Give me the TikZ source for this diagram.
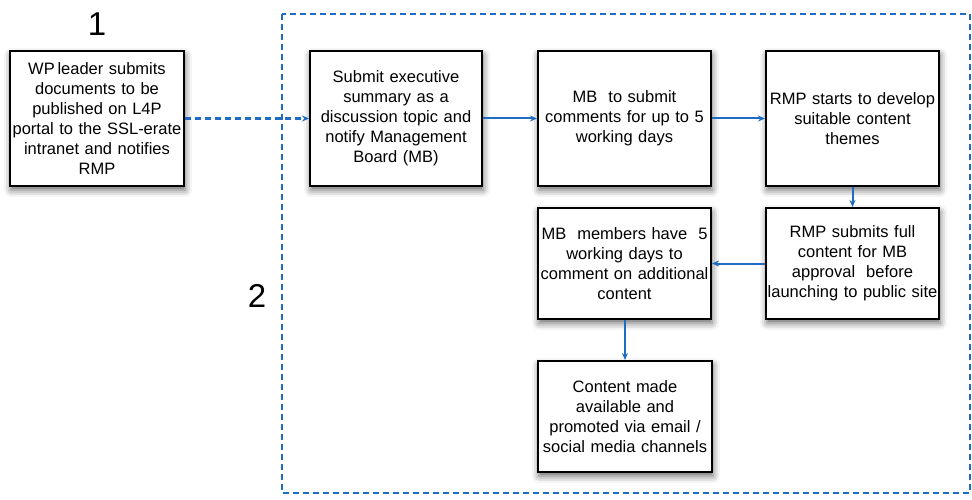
\documentclass[tikz,border=0pt]{standalone}
\usepackage{fontspec}
\setmainfont{Liberation Sans}
\usetikzlibrary{arrows.meta,shadows.blur}
\definecolor{flowblue}{RGB}{31,108,196}
\begin{document}
\begin{tikzpicture}[x=1pt,y=-1pt,
  box/.style={draw=black, line width=2pt, fill=white, align=center,
    inner sep=0pt, text width=#1, minimum width=#1,
    font=\fontsize{16.5}{20}\selectfont,
    blur shadow={shadow xshift=1pt, shadow yshift=-4pt, shadow blur radius=7pt, shadow opacity=60}},
  tall/.style={minimum height=135pt},
  short/.style={minimum height=111pt},
  flow/.style={draw=flowblue, line width=2pt, -{Stealth[length=7pt,width=6pt]}},
  frame/.style={draw=flowblue, line width=2pt, dash pattern=on 6pt off 4pt},
  bignum/.style={font=\fontsize{33}{33}\selectfont, inner sep=0pt}
]
\useasboundingbox (0,0) rectangle (972,500);

\draw[frame] (282,14) rectangle (970,493);

\node[bignum] (n1) at (97,24) {1};
\node[bignum] (n2) at (257,296) {2};

\node[box=174pt, tall] (a) at (97,118.5) {WP\,leader submits\\documents to be\\published on L4P\\portal to the SSL-erate\\intranet and notifies\\RMP};
\node[box=172pt, tall] (b) at (396,118.5) {Submit executive\\summary as a\\discussion topic and\\notify Management\\Board (MB)};
\node[box=173pt, tall] (c) at (624.5,118.5) {MB\ \ to submit\\comments for up to 5\\working days};
\node[box=173pt, tall] (d) at (852.5,118.5) {RMP starts to develop\\suitable content\\themes};
\node[box=173pt, short] (e) at (852.5,263.5) {RMP submits full\\content for MB\\approval\ \ before\\launching to public site};
\node[box=173pt, short] (f) at (624.5,263.5) {MB\ \ members have\ \ 5\\working days to\\comment on additional\\content};
\node[box=174pt, short] (g) at (625,416.5) {Content made\\available and\\promoted via email /\\social media channels};

\draw[flow, line width=2.5pt, dash pattern=on 6pt off 4pt] (a.east) -- (b.west);
\draw[flow] (b.east) -- (c.west);
\draw[flow] (c.east) -- (d.west);
\draw[flow] (d.south) -- (e.north);
\draw[flow] (e.west) -- (f.east);
\draw[flow] (f.south -| g.north) -- (g.north);
\end{tikzpicture}
\end{document}
